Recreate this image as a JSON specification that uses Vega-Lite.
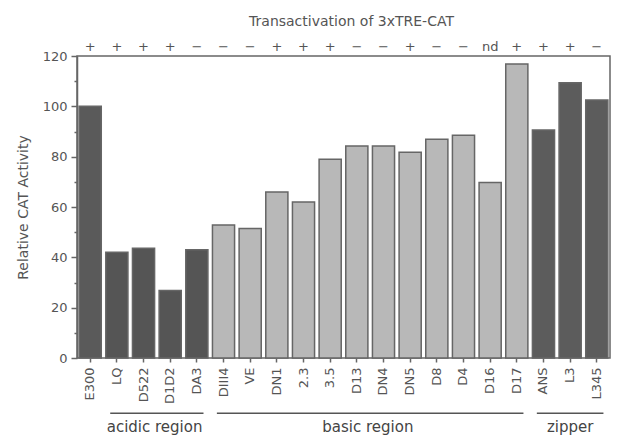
{
  "$schema": "https://vega.github.io/schema/vega-lite/v6.json",
  "autosize": "none",
  "width": 533,
  "height": 302,
  "padding": {"left": 77, "top": 56, "right": 10, "bottom": 81},
  "background": "white",
  "config": {
    "font": "DejaVu Sans",
    "view": {"stroke": "#666", "strokeWidth": 1.5},
    "axis": {"domainColor": "#666", "tickColor": "#666", "labelColor": "#555", "titleColor": "#555", "grid": false, "domainWidth": 1.5, "tickWidth": 1.5}
  },
  "title": {"text": "Transactivation of 3xTRE-CAT", "fontSize": 14, "fontWeight": "normal", "color": "#555", "offset": 12, "anchor": "middle", "dx": 8},
  "datasets": {
    "bars": [
      {"name": "E300", "value": 100, "group": "wild", "sign": "+"},
      {"name": "LQ", "value": 42, "group": "acidic", "sign": "+"},
      {"name": "D522", "value": 43.6, "group": "acidic", "sign": "+"},
      {"name": "D1D2", "value": 26.8, "group": "acidic", "sign": "+"},
      {"name": "DA3", "value": 43, "group": "acidic", "sign": "−"},
      {"name": "DIII4", "value": 52.8, "group": "basic", "sign": "−"},
      {"name": "VE", "value": 51.5, "group": "basic", "sign": "−"},
      {"name": "DN1", "value": 66, "group": "basic", "sign": "+"},
      {"name": "2.3", "value": 62, "group": "basic", "sign": "+"},
      {"name": "3.5", "value": 79, "group": "basic", "sign": "+"},
      {"name": "D13", "value": 84.2, "group": "basic", "sign": "−"},
      {"name": "DN4", "value": 84.2, "group": "basic", "sign": "−"},
      {"name": "DN5", "value": 81.8, "group": "basic", "sign": "+"},
      {"name": "D8", "value": 86.9, "group": "basic", "sign": "−"},
      {"name": "D4", "value": 88.5, "group": "basic", "sign": "−"},
      {"name": "D16", "value": 69.7, "group": "basic", "sign": "nd"},
      {"name": "D17", "value": 116.8, "group": "basic", "sign": "+"},
      {"name": "ANS", "value": 90.6, "group": "zipper", "sign": "+"},
      {"name": "L3", "value": 109.4, "group": "zipper", "sign": "+"},
      {"name": "L345", "value": 102.5, "group": "zipper", "sign": "−"}
    ],
    "regions": [
      {"label": "acidic region", "from": "LQ", "to": "DA3", "mid": "D522"},
      {"label": "basic region", "from": "DIII4", "to": "D17", "mid": "D13"},
      {"label": "zipper", "from": "ANS", "to": "L345", "mid": "L3"}
    ]
  },
  "resolve": {"axis": {"y": "independent"}},
  "layer": [
    {
      "data": {"name": "bars"},
      "mark": {"type": "bar", "stroke": "#666", "strokeWidth": 1.5},
      "encoding": {
        "x": {"field": "name", "type": "nominal", "sort": null,
              "scale": {"paddingInner": 0.17, "paddingOuter": 0.08},
              "axis": {"title": null, "labelAngle": -90, "labelFontSize": 13, "tickSize": 4, "labelPadding": 5, "domain": false}},
        "y": {"field": "value", "type": "quantitative",
              "scale": {"domain": [0, 120], "nice": false},
              "axis": {"title": "Relative CAT Activity", "titleFontSize": 14, "titleFontWeight": "normal", "titlePadding": 12,
                       "values": [0, 20, 40, 60, 80, 100, 120], "labelFontSize": 13, "tickSize": 6, "labelPadding": 4}},
        "fill": {"field": "group", "type": "nominal",
                 "scale": {"domain": ["wild", "acidic", "basic", "zipper"], "range": ["#5a5a5a", "#555555", "#b8b8b8", "#5c5c5c"]},
                 "legend": null}
      }
    },
    {
      "data": {"name": "bars"},
      "mark": {"type": "text", "fontSize": 13, "color": "#555", "baseline": "middle"},
      "encoding": {
        "x": {"field": "name", "type": "nominal", "sort": null},
        "y": {"datum": 123.6, "type": "quantitative",
              "axis": {"orient": "left", "title": null, "labels": false, "domain": false, "values": [10, 30, 50, 70, 90, 110], "tickSize": 3}},
        "text": {"field": "sign"}
      }
    },
    {
      "data": {"name": "regions"},
      "mark": {"type": "rule", "stroke": "#555", "strokeWidth": 1.5},
      "encoding": {
        "x": {"field": "from", "type": "nominal", "sort": null, "bandPosition": 0.2},
        "x2": {"field": "to", "bandPosition": 0.8},
        "y": {"datum": -22, "type": "quantitative", "axis": null}
      }
    },
    {
      "data": {"name": "regions"},
      "transform": [{"filter": "datum.label != 'zipper'"}],
      "mark": {"type": "text", "fontSize": 15, "color": "#444", "baseline": "middle"},
      "encoding": {
        "x": {"field": "mid", "type": "nominal", "sort": null, "bandPosition": 1},
        "y": {"datum": -27.5, "type": "quantitative", "axis": null},
        "text": {"field": "label"}
      }
    },
    {
      "data": {"name": "regions"},
      "transform": [{"filter": "datum.label == 'zipper'"}],
      "mark": {"type": "text", "fontSize": 15, "color": "#444", "baseline": "middle"},
      "encoding": {
        "x": {"field": "mid", "type": "nominal", "sort": null, "bandPosition": 0.5},
        "y": {"datum": -27.5, "type": "quantitative", "axis": null},
        "text": {"field": "label"}
      }
    }
  ]
}
